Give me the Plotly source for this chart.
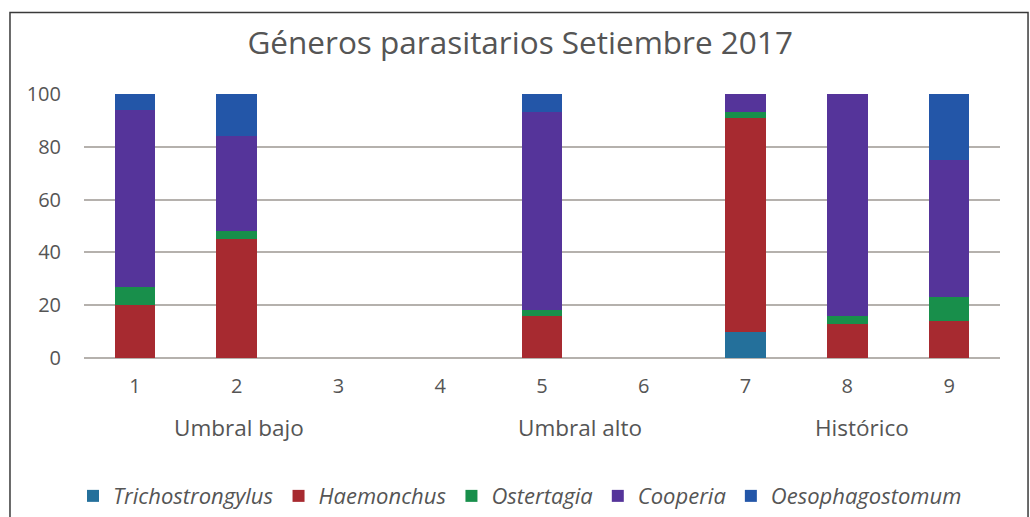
import plotly.graph_objects as go

# sample number on the x axis (3, 4 and 6 have no data)
categories = ["1", "2", "3", "4", "5", "6", "7", "8", "9"]

# percentage of each genus per sample
trichostrongylus = [0, 0, None, None, 0, None, 10, 0, 0]
haemonchus = [20, 45, None, None, 16, None, 81, 13, 14]
ostertagia = [7, 3, None, None, 2, None, 2, 3, 9]
cooperia = [67, 36, None, None, 75, None, 7, 84, 52]
oesophagostomum = [6, 16, None, None, 7, None, 0, 0, 25]

series_names = ["Trichostrongylus", "Haemonchus", "Ostertagia", "Cooperia", "Oesophagostomum"]
series_values = [trichostrongylus, haemonchus, ostertagia, cooperia, oesophagostomum]
series_colors = ["#24709b", "#a72a30", "#188f4b", "#55349a", "#2356a8"]

# second row of x labels
group_labels = ["Umbral bajo", "Umbral alto", "Histórico"]
group_pos = [0.169, 0.5415, 0.849]  # paper x, as placed in the original

y_ticks = [0, 20, 40, 60, 80, 100]

TEXT = "#555555"
FONT = "Open Sans"

fig = go.Figure()
for name, vals, col in zip(series_names, series_values, series_colors):
    fig.add_trace(go.Bar(
        x=categories, y=vals, name=name,
        marker=dict(color=col, line=dict(width=0)),
    ))

for label, px_ in zip(group_labels, group_pos):
    fig.add_annotation(
        x=px_, y=-0.265, xref="paper", yref="paper", text=label, showarrow=False,
        xanchor="center", yanchor="middle", font=dict(family=FONT, size=22.5, color=TEXT),
    )

# outer frame around the chart
fig.add_shape(
    type="rect", xref="paper", yref="paper",
    x0=-0.0808, x1=1.0306, y0=-0.7, y1=1.3087,
    line=dict(color="#3a3a3a", width=1.5), fillcolor="rgba(0,0,0,0)", layer="below",
)

fig.update_layout(
    width=1030, height=517,
    margin=dict(l=84, r=30, t=94, b=159, autoexpand=False),
    paper_bgcolor="white", plot_bgcolor="white",
    barmode="stack", bargap=0.6,
    title=dict(
        text="Géneros parasitarios Setiembre 2017",
        x=0.505, xanchor="center", y=0.917, yanchor="middle",
        font=dict(family=FONT, size=31.5, color=TEXT),
    ),
    legend=dict(
        orientation="h", x=0.476, xanchor="center", y=-0.523, yanchor="middle",
        font=dict(family=FONT, size=22, color=TEXT, style="italic"),
        itemwidth=30, traceorder="normal",
    ),
    font=dict(family=FONT, color=TEXT),
)

fig.update_xaxes(
    type="category", showgrid=False, showline=False, zeroline=False,
    ticks="outside", ticklen=10, tickcolor="rgba(0,0,0,0)", automargin=False,
    tickfont=dict(family=FONT, size=20, color=TEXT),
)
fig.update_yaxes(
    range=[0, 100], tickvals=y_ticks, showgrid=True, gridcolor="#b5b1ad", gridwidth=1.5,
    zeroline=True, zerolinecolor="#b5b1ad", zerolinewidth=1.5,
    ticks="outside", ticklen=18, tickcolor="rgba(0,0,0,0)", automargin=False,
    tickfont=dict(family=FONT, size=20, color=TEXT),
)

# drop the default page margin so the figure sits at the window origin
fig.write_html(
    "out.html",
    config={"displayModeBar": False},
    post_script="document.body.style.margin='0';",
)
